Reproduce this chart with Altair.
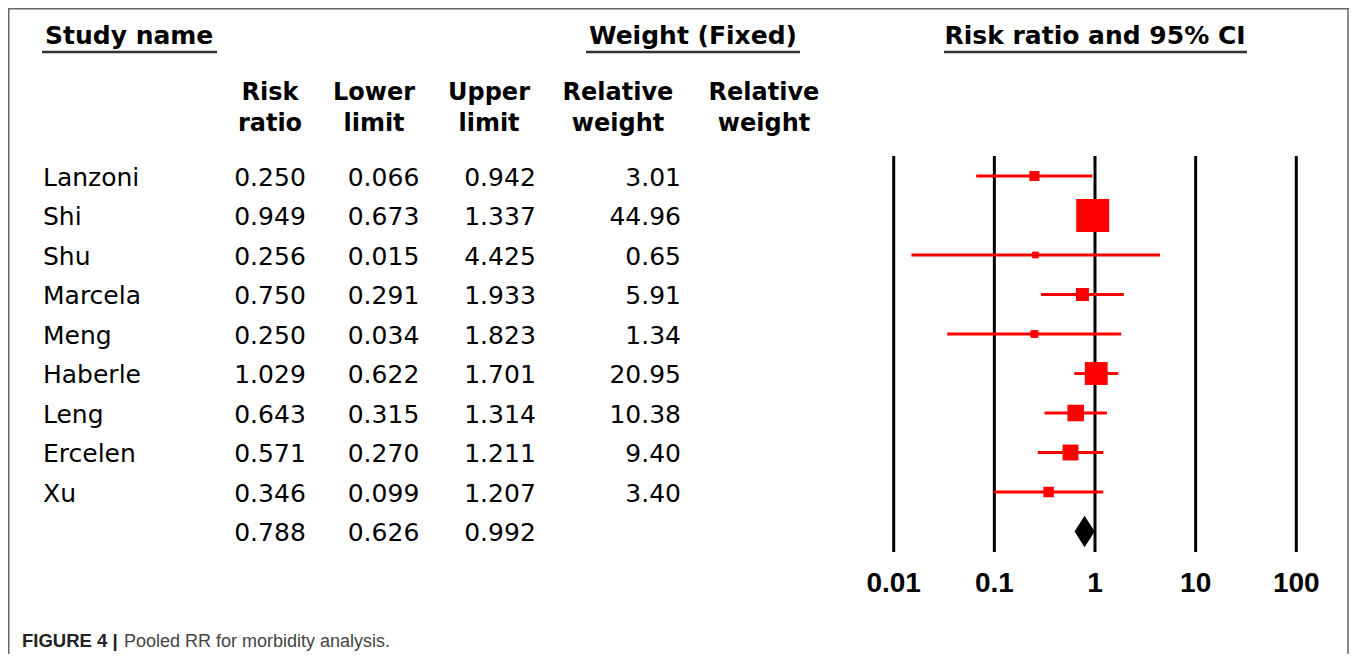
import altair as alt
import pandas as pd

# ---------------- data ----------------
studies = ["Lanzoni", "Shi", "Shu", "Marcela", "Meng", "Haberle", "Leng", "Ercelen", "Xu"]
risk_ratio = [0.250, 0.949, 0.256, 0.750, 0.250, 1.029, 0.643, 0.571, 0.346]
lower_limit = [0.066, 0.673, 0.015, 0.291, 0.034, 0.622, 0.315, 0.270, 0.099]
upper_limit = [0.942, 1.337, 4.425, 1.933, 1.823, 1.701, 1.314, 1.211, 1.207]
relative_weight = [3.01, 44.96, 0.65, 5.91, 1.34, 20.95, 10.38, 9.40, 3.40]
pooled_rr = 0.788
pooled_lower = 0.626
pooled_upper = 0.992
axis_ticks = [0.01, 0.1, 1, 10, 100]
axis_labels = ["0.01", "0.1", "1", "10", "100"]
header_line1 = ["Risk", "Lower", "Upper", "Relative", "Relative"]
header_line2 = ["ratio", "limit", "limit", "weight", "weight"]
section_titles = ["Study name", "Weight (Fixed)", "Risk ratio and 95% CI"]
caption_bold = "FIGURE 4 |"
caption_text = "Pooled RR for morbidity analysis."

# ---------------- tables ----------------
n = len(studies)
table = pd.DataFrame({
    "row": list(range(n + 1)),
    "name": studies + [""],
    "rr": risk_ratio + [pooled_rr],
    "lower": lower_limit + [pooled_lower],
    "upper": upper_limit + [pooled_upper],
    "weight": relative_weight + [None],
})
study_df = table.iloc[:n]
ticks_df = pd.DataFrame({"tick": axis_ticks, "label": axis_labels})

HALF = 0.4  # diamond half-height in row units (style)
diamond_df = pd.DataFrame({
    "x": [pooled_lower, pooled_rr, pooled_upper],
    "y1": [n, n - HALF, n],
    "y2": [n, n + HALF, n],
})

W, H = 1341, 646
Y = alt.Scale(domain=[0, n], range=[168, 523.5])
X = alt.Scale(type="log", domain=[0.01, 100], range=[885.7, 1288.3])

one = alt.Data(values=[{"a": 1}])
FONT = "DejaVu Sans"
RED = "#ff0000"

layers = []

# frame
frame_col = "#666666"
layers.append(alt.Chart(one).mark_rule(color=frame_col, strokeWidth=1.5).encode(
    x=alt.value(0.75), y=alt.value(0), y2=alt.value(H)))
layers.append(alt.Chart(one).mark_rule(color=frame_col, strokeWidth=1.5).encode(
    x=alt.value(W - 1), y=alt.value(0), y2=alt.value(H)))
layers.append(alt.Chart(one).mark_rule(color=frame_col, strokeWidth=1.5).encode(
    x=alt.value(0), x2=alt.value(W), y=alt.value(0.75)))

# section titles + underlines
title_specs = [
    (section_titles[0], 37, "left", 34, 209),
    (section_titles[1], 685, "center", 578, 792),
    (section_titles[2], 1087, "center", 936, 1239),
]
for txt, xpos, al, u0, u1 in title_specs:
    layers.append(alt.Chart(one).mark_text(
        text=txt, font=FONT, fontSize=25, fontWeight="bold", align=al,
        baseline="alphabetic", color="#000000").encode(
        x=alt.value(xpos), y=alt.value(35.5)))
    layers.append(alt.Chart(one).mark_rule(color="#333333", strokeWidth=2.5).encode(
        x=alt.value(u0), x2=alt.value(u1), y=alt.value(44)))

# column headers
header_x = [262, 366, 481, 610, 756]
for l1, l2, xpos in zip(header_line1, header_line2, header_x):
    layers.append(alt.Chart(one).mark_text(
        text=l1, font=FONT, fontSize=24, fontWeight="bold", align="center",
        baseline="alphabetic", color="#000000").encode(
        x=alt.value(xpos), y=alt.value(92)))
    layers.append(alt.Chart(one).mark_text(
        text=l2, font=FONT, fontSize=24, fontWeight="bold", align="center",
        baseline="alphabetic", color="#000000").encode(
        x=alt.value(xpos), y=alt.value(123)))

# table body
DY = 9.5
body = alt.Chart(table)
layers.append(alt.Chart(study_df).mark_text(
    font=FONT, fontSize=25, align="left", baseline="alphabetic", dy=DY, color="#000000").encode(
    x=alt.value(35), y=alt.Y("row:Q", scale=Y, axis=None), text="name:N"))
for field, xpos in [("rr", 262), ("lower", 375.5), ("upper", 492)]:
    layers.append(body.mark_text(
        font=FONT, fontSize=25, align="center", baseline="alphabetic", dy=DY, color="#000000").encode(
        x=alt.value(xpos), y=alt.Y("row:Q", scale=Y, axis=None),
        text=alt.Text(f"{field}:Q", format=".3f")))
layers.append(alt.Chart(study_df).mark_text(
    font=FONT, fontSize=25, align="right", baseline="alphabetic", dy=DY, color="#000000").encode(
    x=alt.value(673), y=alt.Y("row:Q", scale=Y, axis=None),
    text=alt.Text("weight:Q", format=".2f")))

# forest plot: reference lines
layers.append(alt.Chart(ticks_df).mark_rule(color="#000000", strokeWidth=3).encode(
    x=alt.X("tick:Q", scale=X, axis=None), y=alt.value(148), y2=alt.value(544)))
# tick labels
layers.append(alt.Chart(ticks_df).mark_text(
    font="Liberation Sans", fontSize=28, fontWeight="bold", align="center",
    baseline="alphabetic", color="#000000").encode(
    x=alt.X("tick:Q", scale=X, axis=None), y=alt.value(583.5), text="label:N"))

# CI lines
layers.append(alt.Chart(study_df).mark_rule(color=RED, strokeWidth=3).encode(
    x=alt.X("lower:Q", scale=X, axis=None), x2="upper:Q",
    y=alt.Y("row:Q", scale=Y, axis=None)))
# squares
layers.append(alt.Chart(study_df).mark_square(color=RED, filled=True, opacity=1).encode(
    x=alt.X("rr:Q", scale=X, axis=None),
    y=alt.Y("row:Q", scale=Y, axis=None),
    size=alt.Size("weight:Q", scale=alt.Scale(domain=[0, 45], range=[30, 1089]), legend=None)))
# pooled diamond
layers.append(alt.Chart(diamond_df).mark_area(color="#000000", opacity=1).encode(
    x=alt.X("x:Q", scale=X, axis=None),
    y=alt.Y("y1:Q", scale=Y, axis=None), y2="y2:Q"))

# caption
layers.append(alt.Chart(one).mark_text(
    text=caption_bold, font="Liberation Sans", fontSize=18.5, fontWeight="bold",
    align="left", baseline="alphabetic", color="#222222").encode(
    x=alt.value(14), y=alt.value(639)))
layers.append(alt.Chart(one).mark_text(
    text=caption_text, font="Liberation Sans", fontSize=18,
    align="left", baseline="alphabetic", color="#444444").encode(
    x=alt.value(116), y=alt.value(639)))

chart = alt.layer(*layers).properties(
    width=W, height=H, padding=0, autosize=alt.AutoSizeParams(type="none"),
    background="#ffffff",
).configure_view(strokeWidth=0)

chart.save("out.html", embed_options={"renderer": "svg", "actions": False})
